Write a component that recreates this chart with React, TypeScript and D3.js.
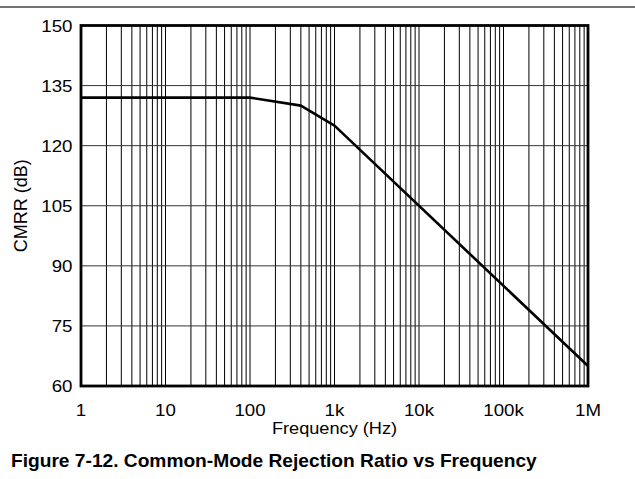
import React from "react";
import * as d3 from "d3";

const freqHz = [1, 100, 400, 1000, 1000000];
const cmrrDb = [132, 132, 130, 125, 65];
const yTicks = [60, 75, 90, 105, 120, 135, 150];
const xTicks = [1, 10, 100, 1000, 10000, 100000, 1000000];
const xTickLabels = ["1", "10", "100", "1k", "10k", "100k", "1M"];

const W = 635;
const H = 479;
const L = 81, R = 588, T = 25.5, B = 386;
const FONT = "'Liberation Sans', Arial, Helvetica, sans-serif";

function HText({ x, y, anchor = "middle", size = 17, sx = 1.1, weight = "normal", children }: any) {
  return (
    <text
      transform={`translate(${x},${y}) scale(${sx},1)`}
      textAnchor={anchor}
      fontSize={size}
      fontWeight={weight}
      fontFamily={FONT}
      fill="#000"
    >
      {children}
    </text>
  );
}

export default function App() {
  const x = d3.scaleLog().domain([1, 1e6]).range([L, R]);
  const y = d3.scaleLinear().domain([60, 150]).range([B, T]);

  const minor: number[] = [];
  for (let e = 0; e < 6; e++) {
    for (let m = 2; m <= 9; m++) minor.push(m * Math.pow(10, e));
  }

  const pts = freqHz.map((f, i) => [f, cmrrDb[i]] as [number, number]);
  const line = d3
    .line<[number, number]>()
    .x((d) => x(d[0]))
    .y((d) => y(d[1]));

  return (
    <svg
      width={W}
      height={H}
      style={{ position: "absolute", left: 0, top: 0, background: "#fff" }}
    >
      <rect x={0} y={0} width={W} height={H} fill="#fff" />
      <line x1={0} x2={W} y1={7} y2={7} stroke="#444" strokeWidth={1.6} />

      {/* grid */}
      {minor.map((f) => (
        <line key={"m" + f} x1={x(f)} x2={x(f)} y1={T} y2={B} stroke="#000" strokeWidth={1} />
      ))}
      {xTicks.map((f) => (
        <line key={"M" + f} x1={x(f)} x2={x(f)} y1={T} y2={B} stroke="#000" strokeWidth={1} />
      ))}
      {yTicks.map((v) => (
        <line key={"h" + v} x1={L} x2={R} y1={y(v)} y2={y(v)} stroke="#333" strokeWidth={1} />
      ))}

      {/* curve */}
      <path d={line(pts) || ""} fill="none" stroke="#000" strokeWidth={2.6} strokeLinejoin="round" />

      {/* frame */}
      <rect x={L} y={T} width={R - L} height={B - T} fill="none" stroke="#000" strokeWidth={2.8} />

      {/* y tick labels */}
      {yTicks.map((v) => (
        <HText key={"yl" + v} x={72.5} y={y(v) + 6} anchor="end">
          {String(v)}
        </HText>
      ))}
      {/* x tick labels */}
      {xTicks.map((f, i) => (
        <HText key={"xl" + f} x={x(f)} y={415.5} anchor="middle">
          {xTickLabels[i]}
        </HText>
      ))}

      <HText x={(L + R) / 2} y={433.5} anchor="middle" sx={1.07}>
        Frequency (Hz)
      </HText>

      <text
        transform={`translate(26.7,${(T + B) / 2}) rotate(-90) scale(1,1.03)`}
        textAnchor="middle"
        fontSize={18}
        fontFamily={FONT}
        fill="#000"
      >
        CMRR (dB)
      </text>

      <HText x={11} y={466.7} anchor="start" size={18} sx={1.065} weight="bold">
        Figure 7-12. Common-Mode Rejection Ratio vs Frequency
      </HText>
    </svg>
  );
}
